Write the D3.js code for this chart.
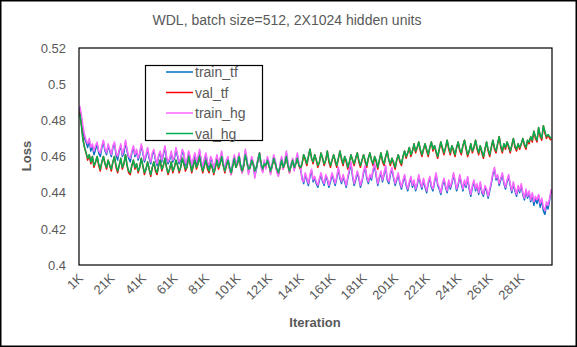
<!DOCTYPE html>
<html><head><meta charset="utf-8">
<script src="https://cdn.jsdelivr.net/npm/d3@7"></script>
<style>
html,body{margin:0;padding:0;background:#fff;}
svg{display:block;font-family:"Liberation Sans",Arial,sans-serif;}
</style></head>
<body>
<svg id="chart" width="577" height="347"></svg>
<script>
const title = "WDL, batch size=512, 2X1024 hidden units";
const seriesNames = ["train_tf", "val_tf", "train_hg", "val_hg"];
const seriesColors = ["#0070C0", "#FF0000", "#FF66FF", "#00B050"];
const yTicks = [0.4, 0.42, 0.44, 0.46, 0.48, 0.5, 0.52];
const xTickLabels = ["1K","21K","41K","61K","81K","101K","121K","141K","161K","181K","201K","221K","241K","261K","281K"];

const train_tf = [
0.487,0.481,0.474,0.470,0.468,0.465,0.469,0.463,0.466,0.461,0.464,0.467,0.462,0.460,0.465,0.468,0.463,0.461,0.466,0.463,
0.460,0.465,0.467,0.461,0.458,0.463,0.466,0.460,0.462,0.468,0.463,0.459,0.457,0.462,0.465,0.460,0.463,0.458,0.461,0.466,
0.462,0.457,0.460,0.464,0.459,0.456,0.461,0.463,0.458,0.455,0.460,0.462,0.457,0.461,0.465,0.459,0.456,0.458,0.462,0.457,
0.459,0.464,0.460,0.456,0.458,0.463,0.461,0.455,0.457,0.462,0.459,0.454,0.458,0.461,0.456,0.459,0.463,0.457,0.453,0.458,
0.461,0.456,0.454,0.459,0.457,0.452,0.456,0.460,0.455,0.458,0.462,0.456,0.453,0.457,0.459,0.454,0.451,0.456,0.460,0.455,
0.457,0.461,0.455,0.452,0.456,0.463,0.458,0.451,0.454,0.459,0.456,0.449,0.453,0.458,0.461,0.455,0.452,0.457,0.454,0.459,
0.456,0.451,0.455,0.460,0.457,0.452,0.450,0.455,0.459,0.454,0.457,0.462,0.456,0.452,0.455,0.458,0.453,0.457,0.461,0.455,
0.453,0.448,0.445,0.450,0.447,0.444,0.449,0.452,0.446,0.448,0.445,0.443,0.447,0.450,0.446,0.444,0.449,0.447,0.443,0.446,
0.450,0.447,0.444,0.448,0.453,0.448,0.445,0.449,0.446,0.443,0.448,0.452,0.456,0.449,0.444,0.447,0.451,0.448,0.443,0.446,
0.451,0.454,0.448,0.445,0.449,0.447,0.452,0.455,0.449,0.444,0.448,0.451,0.446,0.450,0.454,0.447,0.445,0.450,0.453,0.448,
0.444,0.447,0.450,0.445,0.442,0.446,0.449,0.444,0.441,0.445,0.448,0.443,0.446,0.441,0.444,0.449,0.445,0.442,0.447,0.443,
0.440,0.445,0.448,0.443,0.441,0.446,0.450,0.444,0.442,0.439,0.444,0.447,0.443,0.440,0.446,0.442,0.445,0.450,0.446,0.441,
0.444,0.449,0.445,0.441,0.446,0.443,0.448,0.442,0.438,0.443,0.446,0.441,0.444,0.439,0.445,0.440,0.438,0.443,0.441,0.437,
0.441,0.445,0.450,0.453,0.447,0.449,0.444,0.447,0.450,0.445,0.442,0.446,0.449,0.444,0.440,0.445,0.441,0.438,0.443,0.440,
0.444,0.439,0.436,0.441,0.437,0.440,0.435,0.439,0.433,0.437,0.434,0.438,0.432,0.436,0.430,0.428,0.433,0.431,0.436,0.441];

const val_tf = [
0.485,0.478,0.470,0.465,0.462,0.458,0.461,0.456,0.460,0.454,0.457,0.460,0.455,0.452,0.457,0.460,0.456,0.453,0.458,0.455,
0.452,0.457,0.460,0.454,0.451,0.455,0.459,0.453,0.456,0.461,0.455,0.451,0.450,0.455,0.458,0.453,0.456,0.451,0.454,0.459,
0.455,0.450,0.453,0.457,0.453,0.449,0.454,0.457,0.452,0.450,0.455,0.458,0.452,0.455,0.459,0.454,0.450,0.453,0.457,0.451,
0.454,0.458,0.455,0.451,0.454,0.459,0.456,0.452,0.454,0.460,0.456,0.451,0.455,0.458,0.453,0.456,0.460,0.455,0.451,0.455,
0.458,0.453,0.451,0.456,0.454,0.450,0.454,0.458,0.453,0.456,0.460,0.455,0.451,0.455,0.458,0.453,0.450,0.455,0.459,0.454,
0.456,0.460,0.454,0.451,0.455,0.461,0.457,0.452,0.454,0.458,0.456,0.451,0.454,0.458,0.462,0.456,0.452,0.456,0.454,0.458,
0.455,0.451,0.455,0.459,0.456,0.452,0.450,0.454,0.458,0.453,0.456,0.460,0.455,0.451,0.455,0.458,0.453,0.456,0.459,0.455,
0.453,0.456,0.461,0.458,0.455,0.460,0.464,0.459,0.456,0.461,0.458,0.454,0.457,0.462,0.459,0.455,0.458,0.463,0.457,0.454,
0.458,0.461,0.457,0.454,0.459,0.463,0.458,0.455,0.460,0.457,0.453,0.457,0.461,0.458,0.455,0.459,0.462,0.457,0.454,0.458,
0.461,0.457,0.454,0.459,0.462,0.458,0.455,0.460,0.457,0.453,0.458,0.462,0.457,0.455,0.460,0.463,0.458,0.455,0.459,0.456,
0.453,0.458,0.461,0.457,0.455,0.460,0.463,0.459,0.462,0.465,0.460,0.463,0.467,0.462,0.465,0.468,0.463,0.460,0.464,0.467,
0.463,0.460,0.465,0.468,0.463,0.466,0.462,0.459,0.464,0.468,0.464,0.461,0.465,0.469,0.464,0.461,0.466,0.463,0.460,0.465,
0.468,0.463,0.461,0.466,0.469,0.464,0.460,0.463,0.467,0.462,0.465,0.469,0.464,0.461,0.466,0.462,0.459,0.464,0.468,0.463,
0.460,0.465,0.469,0.464,0.462,0.467,0.471,0.465,0.462,0.467,0.464,0.468,0.465,0.462,0.466,0.470,0.465,0.463,0.467,0.464,
0.467,0.470,0.466,0.464,0.469,0.467,0.471,0.468,0.474,0.470,0.468,0.476,0.471,0.469,0.477,0.473,0.470,0.472,0.470,0.469];

const train_hg = [
0.488,0.483,0.477,0.472,0.469,0.467,0.470,0.465,0.467,0.463,0.466,0.468,0.463,0.462,0.466,0.469,0.464,0.462,0.467,0.464,
0.461,0.466,0.468,0.462,0.460,0.464,0.467,0.461,0.464,0.469,0.464,0.460,0.459,0.463,0.466,0.461,0.464,0.459,0.462,0.467,
0.463,0.458,0.461,0.465,0.460,0.457,0.462,0.464,0.459,0.456,0.461,0.463,0.458,0.462,0.466,0.460,0.457,0.459,0.463,0.458,
0.460,0.465,0.461,0.457,0.459,0.464,0.462,0.456,0.458,0.463,0.460,0.455,0.459,0.462,0.457,0.460,0.464,0.458,0.454,0.459,
0.462,0.457,0.455,0.460,0.458,0.451,0.457,0.461,0.456,0.459,0.463,0.457,0.452,0.458,0.460,0.453,0.450,0.457,0.461,0.456,
0.458,0.462,0.454,0.451,0.457,0.464,0.459,0.450,0.455,0.460,0.457,0.448,0.454,0.459,0.462,0.454,0.451,0.458,0.453,0.460,
0.457,0.450,0.456,0.461,0.458,0.451,0.449,0.456,0.460,0.453,0.458,0.463,0.457,0.451,0.456,0.459,0.452,0.458,0.462,0.456,
0.454,0.447,0.446,0.451,0.448,0.445,0.450,0.453,0.447,0.449,0.446,0.444,0.448,0.451,0.447,0.445,0.450,0.448,0.444,0.447,
0.451,0.448,0.445,0.449,0.454,0.449,0.446,0.450,0.447,0.444,0.449,0.453,0.457,0.450,0.445,0.448,0.452,0.449,0.444,0.447,
0.452,0.455,0.449,0.446,0.450,0.448,0.453,0.456,0.450,0.445,0.449,0.452,0.447,0.451,0.455,0.448,0.446,0.451,0.454,0.449,
0.445,0.448,0.451,0.446,0.443,0.447,0.450,0.445,0.442,0.446,0.449,0.444,0.447,0.442,0.445,0.450,0.446,0.443,0.448,0.444,
0.441,0.446,0.449,0.444,0.442,0.447,0.451,0.445,0.443,0.440,0.445,0.448,0.444,0.441,0.447,0.443,0.446,0.451,0.447,0.442,
0.445,0.450,0.446,0.442,0.447,0.444,0.449,0.443,0.439,0.444,0.447,0.442,0.445,0.440,0.446,0.441,0.439,0.444,0.442,0.438,
0.442,0.446,0.451,0.454,0.448,0.450,0.445,0.448,0.451,0.446,0.443,0.447,0.450,0.445,0.441,0.446,0.442,0.439,0.444,0.441,
0.445,0.440,0.437,0.442,0.438,0.441,0.436,0.440,0.435,0.438,0.436,0.439,0.434,0.437,0.432,0.430,0.435,0.433,0.437,0.442];

const val_hg = [
0.484,0.477,0.469,0.465,0.462,0.459,0.461,0.457,0.460,0.455,0.457,0.460,0.456,0.453,0.457,0.460,0.456,0.454,0.458,0.455,
0.453,0.457,0.460,0.455,0.452,0.455,0.459,0.454,0.456,0.461,0.455,0.452,0.451,0.455,0.458,0.454,0.456,0.452,0.454,0.459,
0.455,0.451,0.453,0.457,0.453,0.450,0.454,0.457,0.453,0.451,0.455,0.458,0.453,0.455,0.459,0.454,0.451,0.453,0.457,0.452,
0.454,0.458,0.455,0.452,0.454,0.459,0.456,0.453,0.454,0.460,0.456,0.452,0.455,0.458,0.454,0.456,0.460,0.455,0.452,0.455,
0.458,0.454,0.452,0.456,0.454,0.451,0.454,0.458,0.454,0.456,0.460,0.455,0.452,0.455,0.458,0.454,0.451,0.455,0.459,0.454,
0.456,0.460,0.455,0.452,0.455,0.461,0.457,0.453,0.454,0.458,0.456,0.452,0.454,0.458,0.462,0.456,0.453,0.456,0.455,0.458,
0.455,0.452,0.455,0.459,0.456,0.453,0.451,0.454,0.458,0.454,0.456,0.460,0.455,0.452,0.455,0.458,0.454,0.456,0.459,0.455,
0.454,0.456,0.461,0.459,0.456,0.460,0.464,0.459,0.457,0.461,0.458,0.455,0.457,0.462,0.459,0.456,0.458,0.463,0.458,0.455,
0.458,0.461,0.458,0.455,0.459,0.463,0.459,0.456,0.460,0.458,0.454,0.457,0.461,0.458,0.456,0.459,0.462,0.458,0.455,0.458,
0.461,0.458,0.455,0.459,0.462,0.458,0.456,0.460,0.458,0.454,0.458,0.462,0.458,0.456,0.460,0.463,0.458,0.456,0.459,0.457,
0.454,0.458,0.461,0.458,0.456,0.460,0.463,0.460,0.462,0.465,0.461,0.463,0.467,0.463,0.465,0.468,0.464,0.461,0.464,0.467,
0.464,0.461,0.465,0.468,0.464,0.466,0.463,0.460,0.464,0.468,0.465,0.462,0.465,0.469,0.465,0.462,0.466,0.464,0.461,0.465,
0.468,0.464,0.462,0.466,0.469,0.465,0.461,0.463,0.467,0.463,0.465,0.469,0.465,0.462,0.466,0.463,0.460,0.464,0.468,0.464,
0.461,0.465,0.469,0.465,0.463,0.467,0.471,0.466,0.463,0.467,0.465,0.468,0.466,0.463,0.466,0.470,0.466,0.464,0.467,0.465,
0.467,0.470,0.467,0.465,0.469,0.468,0.471,0.469,0.474,0.471,0.469,0.476,0.472,0.470,0.477,0.474,0.471,0.472,0.471,0.470];

const categories = train_tf.map((d, i) => (i + 1) + "K");
const allSeries = [train_tf, val_tf, train_hg, val_hg];

const W = 577, H = 347;
const plot = {left: 79, right: 552, top: 48, bottom: 265};
const textColor = "#595959";
const svg = d3.select("#chart");

svg.append("rect").attr("x", 0.75).attr("y", 0.75).attr("width", W - 1.5).attr("height", H - 1.5)
  .attr("fill", "#fff").attr("stroke", "#000").attr("stroke-width", 1.5);

const x = d3.scaleBand().domain(categories).range([plot.left, plot.right]).padding(0);
const y = d3.scaleLinear().domain([0.4, 0.52]).range([plot.bottom, plot.top]);
const cx = c => x(c) + x.bandwidth() / 2;

// title
svg.append("text").attr("x", 287).attr("y", 25).attr("text-anchor", "middle")
  .attr("font-size", 14).attr("fill", textColor).text(title);

// y axis labels
const yAxis = d3.axisLeft(y).tickValues(yTicks).tickSize(0).tickPadding(13)
  .tickFormat(d => String(+d.toFixed(2)));
const gy = svg.append("g").attr("transform", `translate(${plot.left},0)`).call(yAxis);
gy.select(".domain").remove();
gy.selectAll("text").attr("font-size", 13).attr("fill", textColor)
  .attr("font-family", '"Liberation Sans",Arial,sans-serif');

// x axis labels
const xAxis = d3.axisBottom(x).tickValues(xTickLabels).tickSize(0).tickPadding(0);
const gx = svg.append("g").attr("transform", `translate(0,${plot.bottom})`).call(xAxis);
gx.select(".domain").remove();
gx.selectAll("text").attr("font-size", 13).attr("fill", textColor)
  .attr("font-family", '"Liberation Sans",Arial,sans-serif')
  .attr("text-anchor", "end").attr("dy", null).attr("y", null)
  .attr("transform", "translate(4,14) rotate(-45)");

// axis titles
svg.append("text").attr("x", 315).attr("y", 327).attr("text-anchor", "middle")
  .attr("font-size", 13).attr("font-weight", "bold").attr("fill", textColor).text("Iteration");
svg.append("text").attr("transform", "translate(31,156) rotate(-90)").attr("text-anchor", "middle")
  .attr("font-size", 13).attr("font-weight", "bold").attr("fill", textColor).text("Loss");

// series lines
const line = d3.line().x((d, i) => cx(categories[i])).y(d => y(d));
allSeries.forEach((s, k) => {
  svg.append("path").datum(s).attr("d", line).attr("fill", "none")
    .attr("stroke", seriesColors[k]).attr("stroke-width", 1.5).attr("stroke-linejoin", "round");
});

// plot frame
svg.append("rect").attr("x", plot.left).attr("y", plot.top)
  .attr("width", plot.right - plot.left).attr("height", plot.bottom - plot.top)
  .attr("fill", "none").attr("stroke", "#000").attr("stroke-width", 1.2);

// legend
const lg = svg.append("g");
lg.append("rect").attr("x", 145.5).attr("y", 65.5).attr("width", 117).attr("height", 75)
  .attr("fill", "#fff").attr("stroke", "#000").attr("stroke-width", 1.2);
seriesNames.forEach((n, k) => {
  const yy = 72 + k * 20.5;
  lg.append("line").attr("x1", 166).attr("x2", 193).attr("y1", yy).attr("y2", yy)
    .attr("stroke", seriesColors[k]).attr("stroke-width", 1.5);
  lg.append("text").attr("x", 195).attr("y", yy + 5).attr("font-size", 14)
    .attr("fill", textColor).text(n);
});
</script>
</body></html>
